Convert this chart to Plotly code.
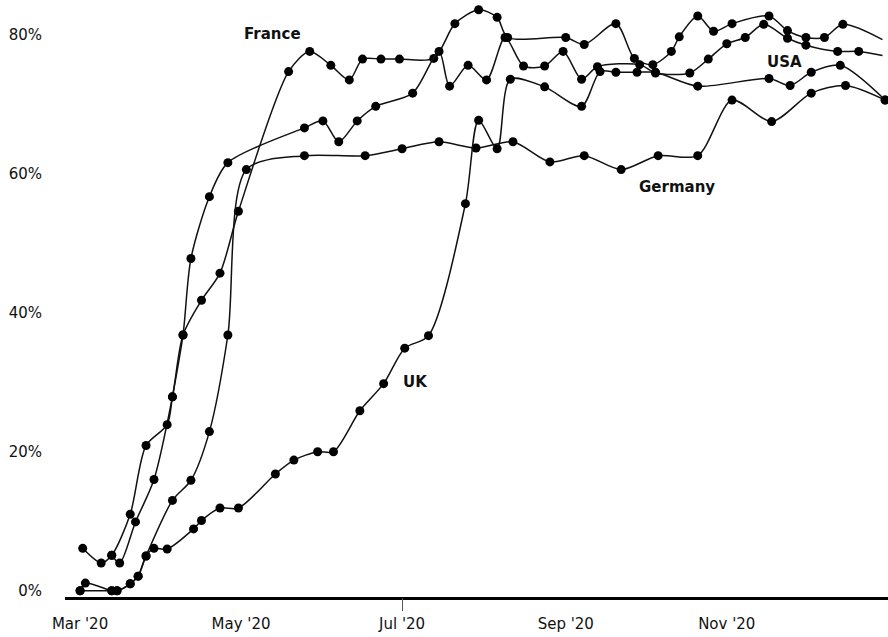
import plotly.graph_objects as go

# ---- data ----
france_dates = ["2020-03-13","2020-03-16","2020-03-22","2020-03-29","2020-04-05","2020-04-09","2020-04-16",
                "2020-04-23","2020-04-30","2020-05-19","2020-05-27","2020-06-04","2020-06-11","2020-06-16",
                "2020-06-23","2020-06-30","2020-07-13","2020-07-21","2020-07-30","2020-08-06","2020-08-10",
                "2020-09-01","2020-09-08","2020-09-20","2020-09-27","2020-10-04","2020-10-11","2020-10-14",
                "2020-10-21","2020-10-27","2020-11-03","2020-11-17","2020-11-24","2020-12-01","2020-12-08",
                "2020-12-15","2020-12-30"]
france_vals = [5.1,4.0,9.9,16.0,27.9,36.8,41.8,45.7,54.6,74.7,77.6,75.6,73.5,76.5,76.5,76.5,76.6,81.6,83.6,
               82.5,79.6,79.6,78.6,81.6,76.6,75.7,77.6,79.7,82.7,80.5,81.6,82.7,80.6,79.6,79.6,81.5,79.3]

usa_dates = ["2020-03-02","2020-03-09","2020-03-13","2020-03-20","2020-03-26","2020-04-03","2020-04-05",
             "2020-04-09","2020-04-12","2020-04-19","2020-04-26","2020-05-25","2020-06-01","2020-06-07",
             "2020-06-14","2020-06-21","2020-07-05","2020-07-15","2020-07-19","2020-07-26","2020-08-02",
             "2020-08-09","2020-08-16","2020-08-24","2020-08-31","2020-09-07","2020-09-13","2020-09-29",
             "2020-10-05","2020-10-18","2020-10-25","2020-11-01","2020-11-08","2020-11-15","2020-11-24",
             "2020-12-01","2020-12-13","2020-12-21","2020-12-30"]
usa_vals = [6.1,4.0,5.1,11.0,20.9,23.9,27.9,36.8,47.8,56.7,61.6,66.6,67.6,64.6,67.6,69.7,71.6,77.6,72.6,75.6,
            73.5,79.6,75.5,75.5,77.6,73.6,75.4,75.7,74.5,74.5,76.5,78.7,79.6,81.5,79.5,78.5,77.6,77.6,77.0]

germany_dates = ["2020-03-01","2020-03-13","2020-03-15","2020-03-20","2020-03-23","2020-03-26","2020-04-05",
                 "2020-04-12","2020-04-19","2020-04-26","2020-05-03","2020-05-25","2020-06-17","2020-07-01",
                 "2020-07-15","2020-07-29","2020-08-12","2020-08-26","2020-09-08","2020-09-22","2020-10-06",
                 "2020-10-21","2020-11-03","2020-11-18","2020-12-03","2020-12-16","2020-12-31"]
germany_vals = [0,0,0,1.0,2.1,5.0,13.0,15.9,22.9,36.8,60.6,62.6,62.6,63.6,64.6,63.7,64.6,61.7,62.6,60.6,
                62.6,62.6,70.6,67.5,71.6,72.7,70.6]

uk_dates = ["2020-03-01","2020-03-03","2020-03-13","2020-03-15","2020-03-20","2020-03-23","2020-03-26",
            "2020-03-29","2020-04-03","2020-04-13","2020-04-16","2020-04-23","2020-04-30","2020-05-14",
            "2020-05-21","2020-05-30","2020-06-05","2020-06-15","2020-06-24","2020-07-02","2020-07-11",
            "2020-07-25","2020-07-30","2020-08-06","2020-08-11","2020-08-24","2020-09-07","2020-09-14",
            "2020-09-20","2020-09-28","2020-10-05","2020-10-21","2020-11-17","2020-11-25","2020-12-03",
            "2020-12-14","2020-12-31"]
uk_vals = [0,1.1,0,0,1.0,2.1,5.0,6.1,6.0,8.9,10.1,11.9,11.9,16.8,18.8,20.0,20.0,25.9,29.8,34.9,36.7,55.7,
           67.7,63.6,73.6,72.5,69.7,74.7,74.6,74.6,74.6,72.6,73.7,72.7,74.6,75.6,70.6]

x_tickvals = ["2020-03-01","2020-05-01","2020-07-01","2020-09-01","2020-11-01"]
x_ticktext = ["Mar '20","May '20","Jul '20","Sep '20","Nov '20"]
y_tickvals = [0,20,40,60,80]
y_ticktext = ["0%","20%","40%","60%","80%"]

label_names = ["France","Germany","UK","USA"]
label_x = ["2020-05-13","2020-10-13","2020-07-06","2020-11-23"]
label_y = [80.1,58.1,30.1,76.1]

# ---- figure ----
FONT = "DejaVu Sans"
INK = "#000000"

series = [
    (france_dates, france_vals, True),
    (usa_dates, usa_vals, True),
    (germany_dates, germany_vals, False),
    (uk_dates, uk_vals, False),
]

fig = go.Figure()
for dates, vals, open_end in series:
    sizes = [9]*len(vals)
    if open_end:
        sizes[-1] = 0
    fig.add_trace(go.Scatter(
        x=dates, y=vals, mode="lines+markers",
        line=dict(color="#111111", width=1.5, shape="spline", smoothing=0.8),
        marker=dict(color=INK, size=sizes, opacity=1, line=dict(width=0)),
        cliponaxis=False, showlegend=False, hoverinfo="skip",
    ))

for name, lx, ly in zip(label_names, label_x, label_y):
    fig.add_annotation(x=lx, y=ly, xref="x", yref="y", text="<b>"+name+"</b>",
                       showarrow=False, font=dict(family=FONT, size=15, color="#111111"))

# dummy trace so the overlay axis with the single Jul tick is rendered
fig.add_trace(go.Scatter(x=[x_tickvals[2]], y=[None], xaxis="x2", showlegend=False,
                         hoverinfo="skip", mode="markers"))

fig.update_layout(
    width=888, height=637,
    margin=dict(l=65, r=0, t=0, b=40),
    paper_bgcolor="white", plot_bgcolor="white",
    font=dict(family=FONT, size=15, color="#111111"),
    xaxis=dict(
        type="date",
        range=["2020-02-24 07:00", "2021-01-01 02:00"],
        tickvals=x_tickvals, ticktext=x_ticktext,
        showgrid=False, zeroline=False,
        showline=True, linecolor=INK, linewidth=2.5,
        ticks="", ticklabelstandoff=11,
        tickfont=dict(family=FONT, size=15, color="#111111"),
    ),
    xaxis2=dict(
        type="date", overlaying="x", matches="x", side="bottom",
        tickvals=[x_tickvals[2]], ticks="outside", ticklen=13, tickwidth=1, tickcolor="#555555",
        showticklabels=False, showgrid=False, zeroline=False, showline=False,
    ),
    yaxis=dict(
        range=[-0.9, 85],
        tickvals=y_tickvals, ticktext=y_ticktext,
        showgrid=False, zeroline=False, showline=False,
        ticks="", ticklabelstandoff=22,
        tickfont=dict(family=FONT, size=15, color="#111111"),
    ),
)

fig.write_html("out.html", config={"displayModeBar": False},
               post_script="document.body.style.margin='0';")
